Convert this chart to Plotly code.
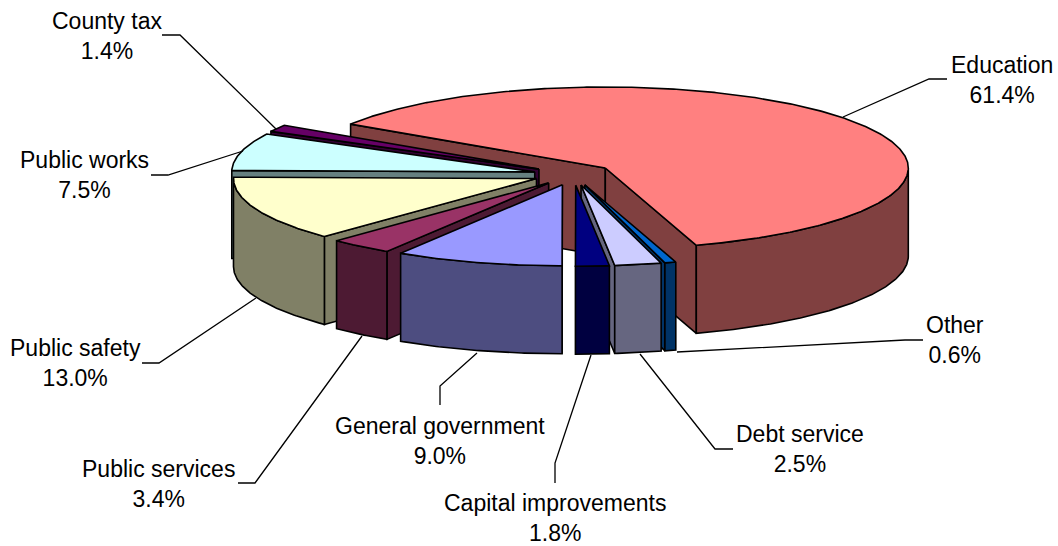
import numpy as np
import plotly.graph_objects as go

categories = ["Education", "Other", "Debt service", "Capital improvements", "General government",
              "Public services", "Public safety", "Public works", "County tax"]
values = [61.4, 0.6, 2.5, 1.8, 9.0, 3.4, 13.0, 7.5, 1.4]
top_colors = ["#FF8080", "#0066CC", "#CCCCFF", "#000080", "#9999FF", "#993366", "#FFFFCC", "#CCFFFF", "#660066"]
side_colors = ["#804040", "#003366", "#666680", "#000040", "#4D4D80", "#4D1A33", "#808066", "#668080", "#330033"]

# pie geometry in the pixel-sized plot scale
CX, CY = 573.5, 174.5
RX, RY = 303.0, 81.0
DEPTH = 88.0
EXPLODE = 40.0
START = 147.2
OUTLINE = dict(color="#000000", width=1.6)
FONT = dict(family="Liberation Sans, Arial, sans-serif", size=23, color="#000000")

# label centres and leader polylines (layout only)
label_pos = {
    "Education": (1002, 80), "Other": (955, 340), "Debt service": (800, 449),
    "Capital improvements": (555, 518), "General government": (440, 441),
    "Public services": (158, 484), "Public safety": (75, 363),
    "Public works": (84, 175), "County tax": (107, 36),
}
leaders = [
    [(947, 79), (929, 79), (843, 117)], [(923, 340), (905, 340), (677, 352)],
    [(733, 449), (715, 449), (640, 354)], [(555, 483), (555, 463), (591, 355)],
    [(440, 405), (440, 386), (477, 353)], [(238, 483), (255, 483), (362, 336)],
    [(142, 363), (159, 363), (256, 298)], [(151, 175), (168, 175), (243, 151)],
    [(162, 35), (180, 35), (276, 129)],
]

fig = go.Figure()


def poly(xs, ys, color):
    fig.add_trace(go.Scatter(x=list(xs) + [xs[0]], y=list(ys) + [ys[0]], mode="lines", fill="toself",
                             fillcolor=color, line=OUTLINE, hoverinfo="skip", showlegend=False))


total = sum(values)
slices = []
a = START
for name, v, tc, sc in zip(categories, values, top_colors, side_colors):
    span = 360 * v / total
    slices.append(dict(name=name, a0=a, a1=a - span, mid=a - span / 2, top=tc, side=sc))
    a -= span


def front_distance(s):
    d = abs(((s["mid"] + 90 + 180) % 360) - 180)
    return d


for s in sorted(slices, key=front_distance, reverse=True):
    m = np.radians(s["mid"])
    ax = CX + EXPLODE * np.cos(m)
    ay = CY - EXPLODE * RY / RX * np.sin(m)
    t = np.radians(np.linspace(s["a0"], s["a1"], max(3, int(abs(s["a0"] - s["a1"]) * 2))))
    px = ax + RX * np.cos(t)
    py = ay - RY * np.sin(t)
    # radial walls facing the viewer
    if np.cos(t[0]) < 0:
        poly([ax, px[0], px[0], ax], [ay, py[0], py[0] + DEPTH, ay + DEPTH], s["side"])
    if np.cos(t[-1]) > 0:
        poly([ax, px[-1], px[-1], ax], [ay, py[-1], py[-1] + DEPTH, ay + DEPTH], s["side"])
    # outer wall, front half only
    mask = np.sin(t) <= 0
    if mask.sum() > 1:
        fx, fy = px[mask], py[mask]
        poly(np.r_[fx, fx[::-1]], np.r_[fy, fy[::-1] + DEPTH], s["side"])
    # top face
    poly(np.r_[ax, px], np.r_[ay, py], s["top"])

shapes = []
for pts in leaders:
    path = "M" + " L".join(f"{x},{y}" for x, y in pts)
    shapes.append(dict(type="path", path=path, xref="x", yref="y", line=dict(color="#000000", width=1.3), layer="above"))

annotations = []
for name, v in zip(categories, values):
    x, y = label_pos[name]
    annotations.append(dict(x=x, y=y, xref="x", yref="y", text=f"{name}<br>{v:.1f}%", showarrow=False,
                            align="center", xanchor="center", yanchor="middle", font=FONT))

fig.update_layout(
    width=1058, height=546, margin=dict(l=0, r=0, t=0, b=0),
    paper_bgcolor="#FFFFFF", plot_bgcolor="#FFFFFF", showlegend=False,
    xaxis=dict(range=[0, 1058], visible=False, fixedrange=True),
    yaxis=dict(range=[546, 0], visible=False, fixedrange=True),
    shapes=shapes, annotations=annotations,
)
fig.write_html("out.html", config=dict(displayModeBar=False),
               post_script="document.body.style.margin='0';document.body.style.overflow='hidden';")
